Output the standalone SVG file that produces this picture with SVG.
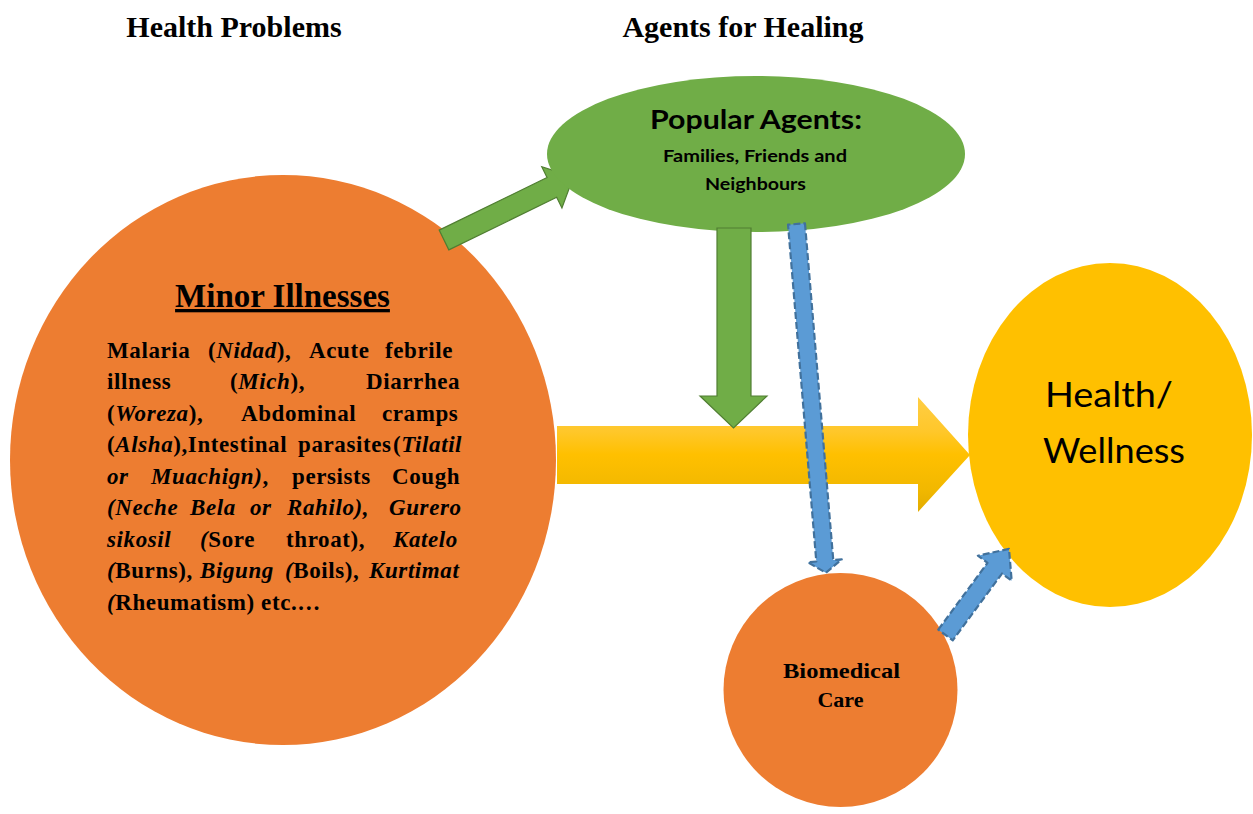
<svg xmlns="http://www.w3.org/2000/svg" width="1253" height="814" viewBox="0 0 1253 814">
  <style>
    .serif { font-family: "Liberation Serif", "Times New Roman", serif; font-weight: bold; fill: #000; }
    .body { letter-spacing: 0.6px; }
    .sans { font-family: Lato, "Open Sans", "Liberation Sans", sans-serif; fill: #000; }
    .i { font-style: italic; }
    .green { fill: #70AD47; stroke: #507E32; stroke-width: 1.2; }
    .blue { fill: #5B9BD5; stroke: #41719C; stroke-width: 2.2; stroke-dasharray: 7 3; stroke-linejoin: round; }
  </style>
  <defs>
    <linearGradient id="gold" x1="0" y1="0" x2="0" y2="1">
      <stop offset="0" stop-color="#FFCE45"/>
      <stop offset="0.3" stop-color="#FFC72A"/>
      <stop offset="0.5" stop-color="#FFC000"/>
      <stop offset="0.8" stop-color="#F2B800"/>
      <stop offset="1" stop-color="#E2AC00"/>
    </linearGradient>
  </defs>

  <rect width="1253" height="814" fill="#FFFFFF"/>

  <!-- column headings -->
  <text class="serif" x="234" y="36.5" font-size="30" text-anchor="middle">Health Problems</text>
  <text class="serif" x="743" y="36.5" font-size="30" text-anchor="middle">Agents for Healing</text>

  <!-- minor illnesses -->
  <g id="minor-illnesses">
    <ellipse cx="283" cy="460" rx="273" ry="285" fill="#ED7D31"/>
    <text class="serif" x="282.5" y="307" font-size="33" text-anchor="middle" text-decoration="underline">Minor Illnesses</text>
    <g class="serif body" font-size="23">
      <text y="357.5"><tspan x="107">Malaria</tspan><tspan x="208">(<tspan class="i">Nidad</tspan>),</tspan><tspan x="309">Acute</tspan><tspan x="385">febrile</tspan></text>
      <text y="389"><tspan x="107">illness</tspan><tspan x="230">(<tspan class="i">Mich</tspan>),</tspan><tspan x="366">Diarrhea</tspan></text>
      <text y="420.6"><tspan x="107">(<tspan class="i">Woreza</tspan>),</tspan><tspan x="241">Abdominal</tspan><tspan x="382">cramps</tspan></text>
      <text y="452.2"><tspan x="107">(<tspan class="i">Alsha</tspan>),Intestinal</tspan><tspan x="298">parasites</tspan><tspan x="393">(<tspan class="i">Tilatil</tspan></tspan></text>
      <text y="483.7"><tspan x="107" class="i">or</tspan><tspan x="151"><tspan class="i">Muachign)</tspan>,</tspan><tspan x="292">persists</tspan><tspan x="392">Cough</tspan></text>
      <text y="515.3" class="i"><tspan x="107">(Neche</tspan><tspan x="190">Bela</tspan><tspan x="250">or</tspan><tspan x="287">Rahilo),</tspan><tspan x="389">Gurero</tspan></text>
      <text y="546.9"><tspan x="107" class="i">sikosil</tspan><tspan x="200"><tspan class="i">(</tspan>Sore</tspan><tspan x="286">throat),</tspan><tspan x="393" class="i">Katelo</tspan></text>
      <text y="578.4"><tspan x="107"><tspan class="i">(</tspan>Burns),</tspan><tspan x="200" class="i">Bigung</tspan><tspan x="285"><tspan class="i">(</tspan>Boils),</tspan><tspan x="369" class="i">Kurtimat</tspan></text>
      <text y="610"><tspan x="107"><tspan class="i">(</tspan>Rheumatism) etc.…</tspan></text>
    </g>
  </g>

  <!-- connectors -->
  <g id="connectors">
    <!-- main flow: illnesses to health -->
    <polygon fill="url(#gold)" points="557,426 918,426 918,397 970,455 918,512 918,484 557,484"/>
    <!-- illnesses to popular agents -->
    <polygon class="green" transform="translate(444,240) rotate(-26)" points="0,-11 120,-11 120,-23 144,0 120,23 120,11 0,11"/>
  </g>

  <g id="popular-agents">
    <ellipse cx="756" cy="154" rx="209" ry="78" fill="#70AD47"/>
    <text class="sans" x="756" y="129" font-size="26" font-weight="bold" text-anchor="middle" textLength="212" lengthAdjust="spacingAndGlyphs">Popular Agents:</text>
    <text class="sans" x="755" y="162" font-size="17" font-weight="bold" text-anchor="middle" textLength="184" lengthAdjust="spacingAndGlyphs">Families,  Friends and</text>
    <text class="sans" x="755.5" y="190" font-size="17" font-weight="bold" text-anchor="middle" textLength="101" lengthAdjust="spacingAndGlyphs">Neighbours</text>
  </g>

  <g id="connectors-agents">
    <!-- popular agents feeding the main flow -->
    <polygon class="green" points="717,228 751,228 751,396 767,396 733.5,428 700,396 717,396"/>
  </g>

  <g id="health-wellness">
    <ellipse cx="1110" cy="435" rx="142" ry="172" fill="#FFC000"/>
    <text class="sans" x="1109" y="406.7" font-size="34" text-anchor="middle" textLength="128" lengthAdjust="spacingAndGlyphs">Health/</text>
    <text class="sans" x="1114" y="463.3" font-size="34" text-anchor="middle" textLength="142" lengthAdjust="spacingAndGlyphs">Wellness</text>
  </g>

  <g id="biomedical-care">
    <circle cx="840.5" cy="690" r="117" fill="#ED7D31"/>
    <text class="serif" x="841.5" y="678" font-size="22" text-anchor="middle" textLength="117" lengthAdjust="spacingAndGlyphs">Biomedical</text>
    <text class="serif" x="840.5" y="707" font-size="22" text-anchor="middle">Care</text>
  </g>

  <g id="connectors-biomedical">
    <!-- popular agents referring to biomedical care -->
    <polygon class="blue" transform="translate(796.5,224) rotate(85.2)" points="0,-8.5 338,-8.5 338,-17 350,0 338,17 338,8.5 0,8.5"/>
    <!-- biomedical care to health -->
    <polygon class="blue" transform="translate(945.5,635) rotate(-53.6)" points="0,-9 83,-9 83,-21 107,0 83,21 83,9 0,9"/>
  </g>
</svg>
